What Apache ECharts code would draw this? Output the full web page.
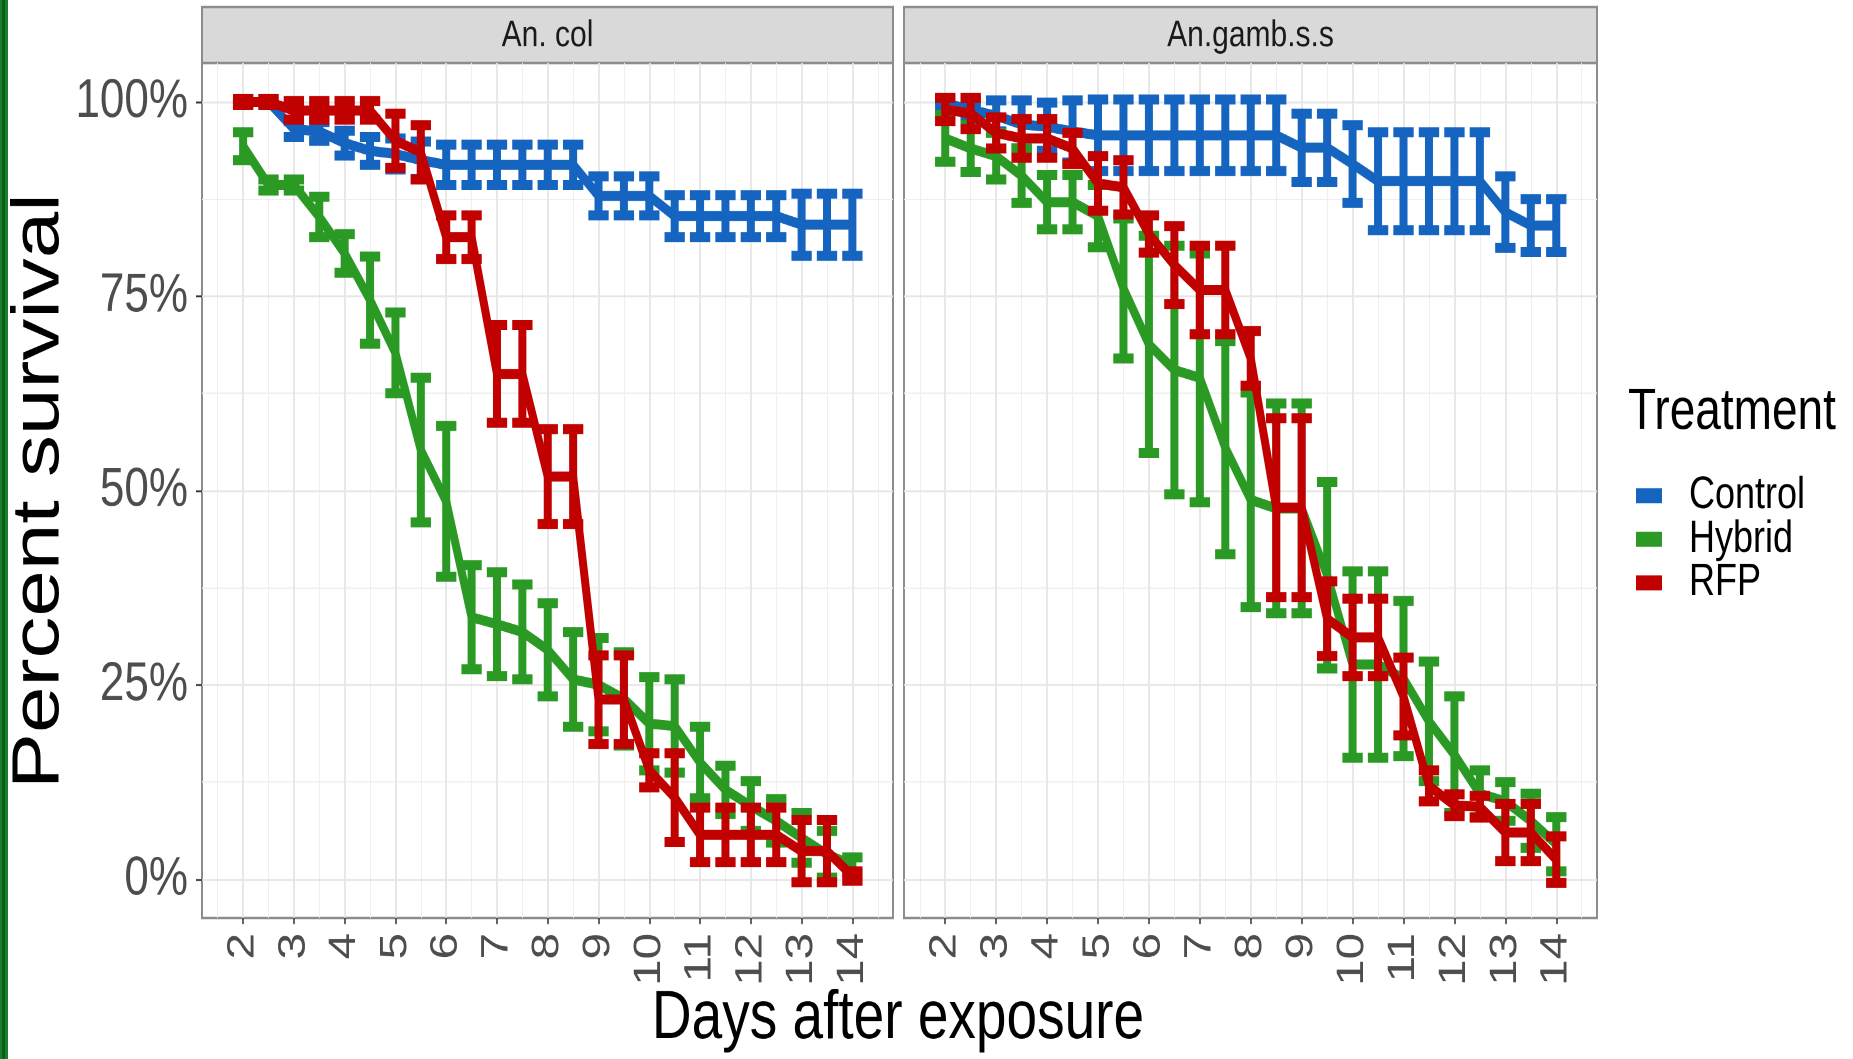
<!DOCTYPE html>
<html>
<head>
<meta charset="utf-8">
<script src="https://cdn.jsdelivr.net/npm/echarts@6/dist/echarts.min.js"></script>
<style>
html,body{margin:0;padding:0;background:#fff;overflow:hidden;}
#wrap{width:1853px;height:1059px;overflow:hidden;position:relative;}
#chart{width:1853px;height:848px;transform:scaleY(1.25);transform-origin:0 0;}
</style>
</head>
<body>
<div id="wrap"><div id="chart"></div></div>
<script>
// ---------- data ----------
const days = [2, 2.5, 3, 3.5, 4, 4.5, 5, 5.5, 6, 6.5, 7, 7.5, 8, 8.5, 9, 9.5, 10, 10.5, 11, 11.5, 12, 12.5, 13, 13.5, 14];
const panels = ['An. col', 'An.gamb.s.s'];
const treatments = ['Control', 'Hybrid', 'RFP'];
const xTickLabels = [2, 3, 4, 5, 6, 7, 8, 9, 10, 11, 12, 13, 14];
const xMinorLines = [1.5, 2.5, 3.5, 4.5, 5.5, 6.5, 7.5, 8.5, 9.5, 10.5, 11.5, 12.5, 13.5, 14.5];
const yTickValues = [0, 0.25, 0.5, 0.75, 1];
const yMinorLines = [0.125, 0.375, 0.625, 0.875];

// An. col
const colControl    = [1.000,1.000,0.965,0.962,0.947,0.937,0.933,0.925,0.919,0.919,0.919,0.919,0.919,0.919,0.879,0.879,0.879,0.853,0.853,0.853,0.853,0.853,0.842,0.842,0.842];
const colControlErr = [0.003,0.003,0.010,0.012,0.016,0.018,0.020,0.024,0.026,0.026,0.026,0.026,0.026,0.026,0.025,0.025,0.025,0.027,0.027,0.027,0.027,0.027,0.040,0.040,0.040];
const colHybrid     = [0.943,0.893,0.893,0.852,0.805,0.745,0.677,0.552,0.486,0.337,0.328,0.318,0.295,0.257,0.250,0.232,0.200,0.197,0.150,0.115,0.094,0.075,0.053,0.032,0.018];
const colHybridErr  = [0.018,0.007,0.007,0.026,0.025,0.056,0.052,0.093,0.097,0.067,0.067,0.061,0.060,0.061,0.060,0.060,0.060,0.060,0.046,0.031,0.032,0.028,0.032,0.030,0.010];
const colRFP        = [1.000,1.000,0.989,0.989,0.989,0.989,0.950,0.935,0.826,0.826,0.650,0.650,0.518,0.518,0.231,0.231,0.140,0.105,0.057,0.057,0.057,0.057,0.036,0.036,0.004];
const colRFPErr     = [0.004,0.004,0.012,0.012,0.012,0.012,0.035,0.035,0.028,0.028,0.063,0.063,0.061,0.061,0.057,0.057,0.022,0.057,0.035,0.035,0.035,0.035,0.040,0.040,0.006];

// An.gamb.s.s
const gamControl    = [0.998,0.990,0.982,0.971,0.968,0.962,0.957,0.957,0.957,0.957,0.957,0.957,0.957,0.957,0.941,0.941,0.920,0.898,0.898,0.898,0.898,0.898,0.858,0.841,0.841];
const gamControlErr = [0.005,0.010,0.020,0.031,0.031,0.040,0.046,0.046,0.046,0.046,0.046,0.046,0.046,0.046,0.044,0.044,0.050,0.063,0.063,0.063,0.063,0.063,0.046,0.034,0.034];
const gamHybrid     = [0.953,0.940,0.930,0.905,0.871,0.871,0.853,0.760,0.688,0.655,0.645,0.555,0.488,0.477,0.477,0.391,0.276,0.276,0.258,0.203,0.160,0.110,0.100,0.075,0.045];
const gamHybridErr  = [0.030,0.030,0.030,0.035,0.035,0.035,0.040,0.090,0.140,0.160,0.160,0.137,0.138,0.135,0.135,0.120,0.120,0.120,0.100,0.077,0.075,0.030,0.025,0.035,0.035];
const gamRFP        = [0.990,0.985,0.960,0.953,0.953,0.940,0.895,0.890,0.830,0.790,0.758,0.758,0.670,0.478,0.478,0.335,0.311,0.311,0.235,0.120,0.095,0.093,0.060,0.060,0.025];
const gamRFPErr     = [0.015,0.020,0.020,0.025,0.025,0.020,0.035,0.035,0.024,0.050,0.057,0.057,0.035,0.115,0.115,0.048,0.050,0.050,0.050,0.020,0.014,0.014,0.037,0.037,0.030];

// ---------- styling ----------
const S = 1.25;                       // vertical stretch applied by CSS
const Y = v => v / S;                 // screen y -> chart y
const COLORS = {Control: '#1565c0', Hybrid: '#2b9a24', RFP: '#c10000'};
const FONT = "'Liberation Sans', Arial, sans-serif";
const XMIN = 1.19, XMAX = 14.8, YMIN = -0.05, YMAX = 1.05;
const CAP = 0.2;
const LW = 8;

const panelData = [
  {Control: [colControl, colControlErr], Hybrid: [colHybrid, colHybridErr], RFP: [colRFP, colRFPErr]},
  {Control: [gamControl, gamControlErr], Hybrid: [gamHybrid, gamHybridErr], RFP: [gamRFP, gamRFPErr]}
];

const gridBoxes = [
  {left: 202, top: Y(63), width: 691, height: Y(855)},
  {left: 904, top: Y(63), width: 693, height: Y(855)}
];

const grids = gridBoxes.map(b => ({
  left: b.left, top: b.top, width: b.width, height: b.height,
  show: true, backgroundColor: '#ffffff', borderColor: '#8c8c8c', borderWidth: 2,
  containLabel: false
}));

const xAxes = [];
const yAxes = [];
gridBoxes.forEach((b, g) => {
  xAxes.push({
    type: 'value', gridIndex: g, min: XMIN, max: XMAX, position: 'bottom',
    axisLine: {show: false, onZero: false},
    axisTick: {show: true, length: Y(6), lineStyle: {color: '#333333', width: 1.5}, customValues: xTickLabels},
    axisLabel: {show: true, rotate: 90, margin: Y(15), fontFamily: FONT, fontSize: 38, color: '#4d4d4d',
      customValues: xTickLabels, formatter: v => String(v)},
    splitLine: {show: true, lineStyle: {color: '#e6e6e6', width: 1.8}},
    z: 2
  });
  xAxes.push({
    type: 'value', gridIndex: g, min: XMIN, max: XMAX, position: 'bottom',
    axisLine: {show: false, onZero: false},
    axisTick: {show: false, customValues: xMinorLines},
    axisLabel: {show: false, customValues: xMinorLines},
    splitLine: {show: true, lineStyle: {color: '#efefef', width: 1}},
    z: 1
  });
  yAxes.push({
    type: 'value', gridIndex: g, min: YMIN, max: YMAX, position: 'left',
    axisLine: {show: false, onZero: false},
    axisTick: {show: g === 0, length: 6, lineStyle: {color: '#333333', width: 1.5}, customValues: yTickValues},
    axisLabel: {show: g === 0, margin: 14, fontFamily: FONT, fontSize: 44, color: '#4d4d4d',
      customValues: yTickValues, formatter: v => Math.round(v * 100) + '%'},
    splitLine: {show: true, lineStyle: {color: '#e6e6e6', width: 1.6}},
    z: 2
  });
  yAxes.push({
    type: 'value', gridIndex: g, min: YMIN, max: YMAX, position: 'left',
    axisLine: {show: false, onZero: false},
    axisTick: {show: false, customValues: yMinorLines},
    axisLabel: {show: false, customValues: yMinorLines},
    splitLine: {show: true, lineStyle: {color: '#efefef', width: 0.9}},
    z: 1
  });
});

function renderErrorBar(params, api) {
  const x = api.value(0), lo = api.value(1), hi = api.value(2);
  const s0 = api.coord([x, lo]), s1 = api.coord([x, hi]);
  const a = api.coord([x - CAP, lo]), b = api.coord([x + CAP, lo]);
  const c = api.coord([x - CAP, hi]), d = api.coord([x + CAP, hi]);
  const st = {stroke: api.visual('color'), lineWidth: LW, lineCap: 'butt', fill: null};
  return {
    type: 'group',
    children: [
      {type: 'line', shape: {x1: s0[0], y1: s0[1], x2: s1[0], y2: s1[1]}, style: st},
      {type: 'line', shape: {x1: a[0], y1: a[1], x2: b[0], y2: b[1]}, style: st},
      {type: 'line', shape: {x1: c[0], y1: c[1], x2: d[0], y2: d[1]}, style: st}
    ]
  };
}

const series = [];
panelData.forEach((pd, g) => {
  treatments.forEach((t, k) => {
    const vals = pd[t][0], errs = pd[t][1];
    series.push({
      name: t, type: 'line', xAxisIndex: 2 * g, yAxisIndex: 2 * g,
      data: days.map((d, i) => [d, vals[i]]),
      symbol: 'none', color: COLORS[t],
      lineStyle: {width: LW, color: COLORS[t], cap: 'butt', join: 'round'},
      itemStyle: {color: COLORS[t]},
      z: 10 + k * 2, silent: true, animation: false
    });
    series.push({
      name: t, type: 'custom', xAxisIndex: 2 * g, yAxisIndex: 2 * g,
      data: days.map((d, i) => [d, vals[i] - errs[i], vals[i] + errs[i]]),
      encode: {x: 0, y: [1, 2]},
      itemStyle: {color: COLORS[t]}, color: COLORS[t],
      renderItem: renderErrorBar,
      z: 11 + k * 2, silent: true, animation: false
    });
  });
});

const graphics = [
  {type: 'rect', shape: {x: 0, y: 0, width: 8, height: Y(1059)}, style: {fill: '#17802a'}, silent: true},
  {type: 'rect', shape: {x: 2, y: 0, width: 3, height: Y(1059)}, style: {fill: '#0c5c1a'}, silent: true}
];
gridBoxes.forEach((b, g) => {
  graphics.push({type: 'rect', shape: {x: b.left, y: Y(7), width: b.width, height: Y(56)},
    style: {fill: '#d9d9d9', stroke: '#8c8c8c', lineWidth: 2}, silent: true});
  graphics.push({type: 'text', x: b.left + b.width / 2, y: Y(36),
    style: {text: panels[g], fontFamily: FONT, fontSize: 30, fill: '#1a1a1a', align: 'center', verticalAlign: 'middle'},
    silent: true});
});
graphics.push({type: 'text', x: 40, y: Y(491), rotation: Math.PI / 2,
  style: {text: 'Percent survival', fontFamily: FONT, fontSize: 67, fill: '#000', align: 'center', verticalAlign: 'middle'},
  silent: true});
graphics.push({type: 'text', x: 898, y: Y(1019),
  style: {text: 'Days after exposure', fontFamily: FONT, fontSize: 55, fill: '#000', align: 'center', verticalAlign: 'middle'},
  silent: true});
graphics.push({type: 'text', x: 1628, y: Y(413),
  style: {text: 'Treatment', fontFamily: FONT, fontSize: 46, fill: '#000', align: 'left', verticalAlign: 'middle'},
  silent: true});

const option = {
  backgroundColor: '#ffffff',
  animation: false,
  grid: grids,
  xAxis: xAxes,
  yAxis: yAxes,
  legend: {
    data: treatments, orient: 'vertical', left: 1631, top: Y(489.5) - 18,
    icon: 'rect', itemWidth: 26, itemHeight: Y(15), itemGap: Y(43.5) - 36,
    selectedMode: false,
    textStyle: {fontFamily: FONT, fontSize: 36, color: '#000', padding: [0, 0, 0, 22]}
  },
  graphic: graphics,
  series: series
};

const chart = echarts.init(document.getElementById('chart'), null, {renderer: 'canvas', devicePixelRatio: 2});
chart.setOption(option);
</script>
</body>
</html>
